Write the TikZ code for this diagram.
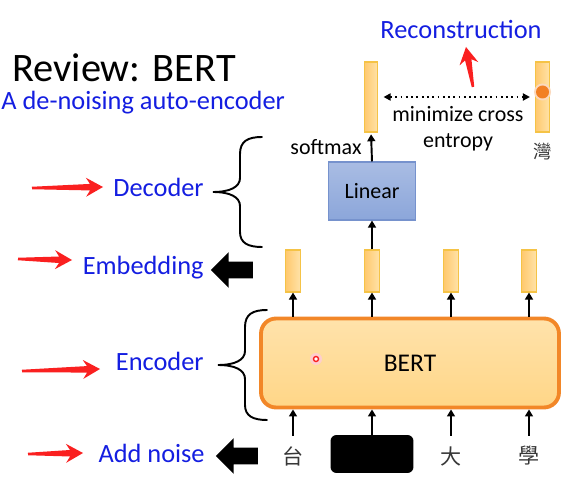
\documentclass[tikz,border=0pt]{standalone}
\usepackage{fontspec}
\setmainfont{Carlito}
\newfontfamily\cjk{Noto Sans CJK TC}
\usetikzlibrary{arrows.meta, positioning, calc, shapes.arrows}
\definecolor{lblblue}{RGB}{20,30,225}
\definecolor{ptred}{RGB}{250,32,32}
\definecolor{vecfill}{RGB}{255,214,130}
\definecolor{vecline}{RGB}{245,195,70}
\definecolor{bertfill}{RGB}{255,214,135}
\definecolor{bertline}{RGB}{242,135,40}
\definecolor{linfill}{RGB}{140,166,218}
\definecolor{linline}{RGB}{118,146,205}
\definecolor{chrgray}{RGB}{55,55,55}
\definecolor{dotorange}{RGB}{242,128,36}

% red pointer arrow from tail #1 to tip #2
\newcommand{\redarrow}[2]{%
  \coordinate (rab) at ($(#2)!0.26cm!(#1)$);
  \coordinate (ran) at ($(#2)!0.34cm!(#1)$);
  \fill[ptred] ($(#1)!0.025cm!90:(#2)$) -- ($(rab)!0.065cm!90:(#2)$)
    -- ($(ran)!0.19cm!90:(#2)$) -- (#2) -- ($(ran)!0.19cm!-90:(#2)$)
    -- ($(rab)!0.065cm!-90:(#2)$) -- ($(#1)!0.025cm!-90:(#2)$) -- cycle;
}

\begin{document}
\begin{tikzpicture}[x=0.02cm, y=-0.02cm,
  lbl/.style={text=lblblue, font=\fontsize{15}{18}\selectfont, inner sep=0pt},
  vec/.style={draw=vecline, left color=vecfill!85!orange, right color=vecfill!70!white, line width=0.6pt, minimum width=0.29cm, minimum height=0.84cm, inner sep=0pt},
  chr/.style={font=\cjk\fontsize{12}{14}\selectfont, text=chrgray, minimum height=0.8cm, inner sep=0pt},
  arr/.style={-{Triangle[length=4pt,width=4.5pt]}, line width=1.1pt},
  fatarrow/.style={single arrow, fill=black, shape border rotate=180, minimum height=0.84cm, inner sep=0.16cm, single arrow head extend=0.19cm},
  brace/.style={line width=1.1pt, line cap=round},
  curly/.pic={\draw[brace] (0,0) .. controls (-14,0) and (-22,4) .. (-22,17) -- (-22,41)
    .. controls (-22,50) and (-32,55) .. (-49,55) .. controls (-32,55) and (-22,60) .. (-22,69)
    -- (-22,95) .. controls (-22,106) and (-14,110) .. (0,110);}
]
\fill[white] (0,0) rectangle (588,486);
\useasboundingbox (0,0) rectangle (588,486);

% titles and labels
\node[anchor=base west, inner sep=0pt, font=\fontsize{23}{27}\selectfont] (title) at (12,82) {Review: BERT};
\node[lbl, anchor=base west] (subtitle) at (1,110) {A de-noising auto-encoder};
\node[lbl, anchor=base] (recon) at (461,39) {Reconstruction};
\node[lbl, anchor=base east] (dec) at (204,197) {Decoder};
\node[lbl, anchor=base east] (emb) at (204,275) {Embedding};
\node[lbl, anchor=base east] (enc) at (204,370) {Encoder};
\node[lbl, anchor=base east] (noise) at (205,462) {Add noise};

% encoder and inputs
\node[draw=bertline, top color=bertfill!70!white, bottom color=bertfill, line width=2.2pt, rounded corners=0.3cm,
  minimum width=5.96cm, minimum height=1.78cm, font=\fontsize{14.5}{17}\selectfont] (bert) at (410,363) {BERT};
\node[chr] (c1) at (293,456) {台};
\node[fill=black, rounded corners=0.12cm, minimum width=1.66cm, minimum height=0.76cm] (c2) at (372,454) {};
\node[chr] (c3) at (451,456) {大};
\node[chr] (c4) at (529,456) {學};
\foreach \i in {1,...,4} \draw[arr] (c\i.north) -- (c\i.north |- bert.south);

% embeddings
\foreach \i/\x in {1/293,2/372,3/451,4/529} \node[vec] (e\i) at (\x,271) {};
\foreach \i in {1,...,4} \draw[arr] (e\i |- bert.north) -- (e\i.south);

% decoder
\node[draw=linline, top color=linfill!75!white, bottom color=linfill, line width=0.6pt, minimum width=1.74cm,
  minimum height=1.16cm, font=\fontsize{12.5}{15}\selectfont] (lin) at (372,191) {Linear};
\draw[arr] (e2.north) -- (lin.south);
\node[vec, minimum width=0.27cm, minimum height=1.4cm] (out1) at (371,97) {};
\node[vec, minimum width=0.27cm, minimum height=1.4cm] (out2) at (542.5,97) {};
\draw[arr, shorten >=1pt] (lin.north) -- node[left=0.18cm, inner sep=0pt, font=\fontsize{12.5}{15}\selectfont] (sm) {softmax} (out1.south);
\fill[dotorange!30] ($(out2)+(0,-5)$) circle (0.17cm);
\fill[dotorange] ($(out2)+(0,-5)$) circle (0.13cm);
\draw[dotted, line width=1pt, {Triangle[length=4pt,width=4pt]}-{Triangle[length=4pt,width=4pt]}, shorten <=3pt, shorten >=3pt] (out1.east) -- (out2.west);
\node[font=\fontsize{12.5}{15}\selectfont, align=center, anchor=north, inner sep=0pt] (mce) at (458,106) {minimize cross\\entropy};
\node[font=\cjk\fontsize{10.5}{12}\selectfont, text=chrgray, inner sep=0pt, below=0.2cm of out2] (c5) {灣};

% braces and fat arrows
\pic at (262,137) {curly};
\pic at (267,310) {curly};
\node[fatarrow] (embarrow) at (236,270) {};
\node[fatarrow] (noisearrow) at (241,456) {};

% laser pointer
\fill[ptred!22] (316,359) circle (0.12cm);
\draw[ptred, line width=0.8pt, fill=white] (316,359) circle (0.05cm);

% red pointer arrows
\coordinate (rd0) at (32,188);  \coordinate (rd1) at (103,187);
\coordinate (rm0) at (18,259);  \coordinate (rm1) at (72,260);
\coordinate (re0) at (22,371);  \coordinate (re1) at (100,369);
\coordinate (rn0) at (28,454);  \coordinate (rn1) at (83,453);
\coordinate (rr0) at (473,87);  \coordinate (rr1) at (466,47);
\redarrow{rd0}{rd1}
\redarrow{rm0}{rm1}
\redarrow{re0}{re1}
\redarrow{rn0}{rn1}
\redarrow{rr0}{rr1}
\end{tikzpicture}
\end{document}
